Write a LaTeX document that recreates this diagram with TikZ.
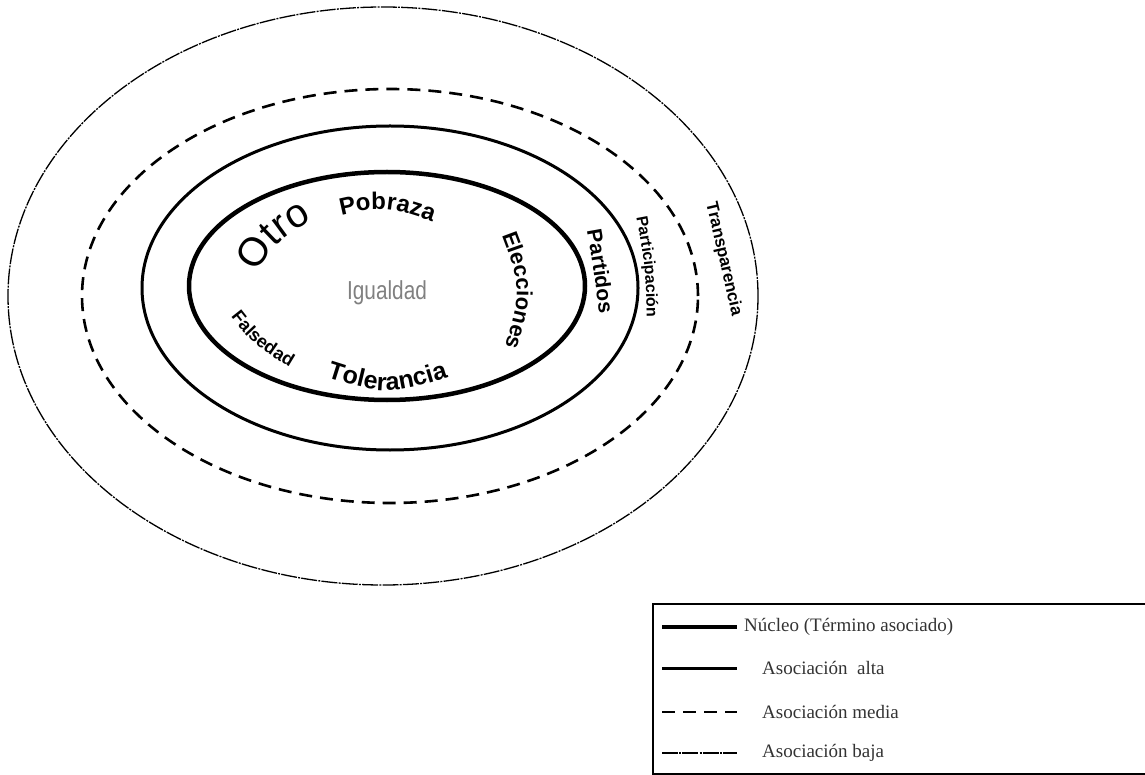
\documentclass[tikz,border=0pt]{standalone}
\usepackage{fontspec}
\setmainfont{Liberation Serif}
\setsansfont{Liberation Sans}
\usetikzlibrary{decorations.text}

\newcommand{\fsz}[1]{\fontsize{#1}{#1}\selectfont}

\begin{document}
\begin{tikzpicture}[x=1pt,y=1pt,
    nucleoline/.style={line width=4.5pt},
    altaline/.style={line width=3pt},
    medialine/.style={line width=2.6pt,dash pattern=on 13pt off 8pt},
    bajaline/.style={line width=1.3pt,dash pattern=on 16pt off 1.2pt on 2pt off 1.2pt},
    curved/.style={decorate,decoration={text along path,text align=center,text={#1}}},
    legtext/.style={anchor=west,inner sep=0pt,text=black!80,font=\fsz{19}}]
  \useasboundingbox (0,0) rectangle (1145,-775);
  % rings
  \draw[bajaline] (383,-296) ellipse [x radius=375,y radius=289];
  \draw[medialine] (390,-296) ellipse [x radius=308,y radius=207];
  \draw[altaline] (390,-288) ellipse [x radius=248,y radius=162];
  \draw[nucleoline] (387,-286) ellipse [x radius=198,y radius=114];
  \node[text=black!50,font=\sffamily\fsz{26}] (igualdad) at (387,-293) {\scalebox{0.8}[1]{Igualdad}};
  % words along the rings
  \path[curved={|\sffamily\fsz{40}|Otro}] (250,-285) .. controls (275,-242) .. (324,-213);
  \path[curved={|\sffamily\bfseries\fsz{24}|Pobraza}] (318,-221) .. controls (385,-204) .. (455,-230);
  \path[curved={|\sffamily\bfseries\fsz{22}|Elecciones}] (496,-220) .. controls (523,-290) .. (500,-362);
  \path[curved={|\sffamily\bfseries\fsz{21}|Partidos}] (584,-215) .. controls (594,-270) .. (601,-330);
  \path[curved={|\sffamily\bfseries\fsz{16}|Participación}] (633,-200) .. controls (646,-268) .. (647,-335);
  \path[curved={|\sffamily\bfseries\fsz{17}|Transparencia}] (703,-190) .. controls (720,-262) .. (735,-330);
  \path[curved={|\sffamily\bfseries\fsz{18}|Falsedad}] (218,-300) .. controls (252,-345) .. (308,-378);
  \path[curved={|\sffamily\bfseries\fsz{25}|Tolerancia}] (308,-371) .. controls (387,-397) .. (467,-371);
  % legend
  \draw[line width=2.4pt] (1150,-604) -- (653,-604) -- (653,-774) -- (1150,-774);
  \foreach \st/\y in {nucleoline/627, altaline/668, medialine/712, bajaline/753}
    \draw[\st] (662,-\y) -- (737,-\y);
  \node[legtext] (nucleo) at (744,-627) {Núcleo (Término asociado)};
  \node[legtext] (alta) at (762,-668) {Asociación\ \ alta};
  \node[legtext] (media) at (762,-712) {Asociación media};
  \node[legtext] (baja) at (762,-753) {Asociación baja};
\end{tikzpicture}
\end{document}
